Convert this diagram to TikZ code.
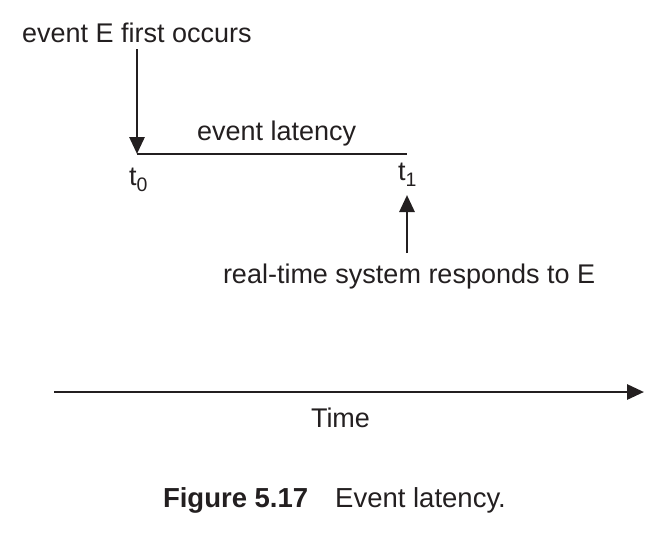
\documentclass[tikz,border=0pt]{standalone}
\usepackage{fontspec}
\setmainfont{Liberation Sans}
\usetikzlibrary{arrows.meta}
\definecolor{ink}{RGB}{35,31,32}
\tikzset{
  lbl/.style={inner sep=0pt, outer sep=0pt, anchor=base west, text=ink, font=\fontsize{27}{32}\selectfont},
  caplbl/.style={lbl, font=\fontsize{27.5}{32}\selectfont},
  bigarrow/.style={draw=ink, line width=2.9pt, -{Triangle[length=17pt,width=15pt]}},
  thinline/.style={draw=ink, line width=1.6pt},
}
\newcommand{\subtxt}[1]{\raisebox{-6pt}{\fontsize{19.5}{20}\selectfont #1}}
\begin{document}
\begin{tikzpicture}[x=1pt,y=-1pt]
\useasboundingbox (0,0) rectangle (668,550);
% texts
\node[lbl] (occ) at (22,42) {event E first occurs};
\node[lbl] (lat) at (197,140) {event latency};
\node[lbl] (tz) at (129,185) {t\subtxt{0}};
\node[lbl] (to) at (398,180) {t\subtxt{1}};
\node[lbl] (resp) at (223,283) {real-time system responds to E};
\node[lbl] (time) at (311,427) {Time};
\node[caplbl] (cap) at (163,507) {\textbf{Figure 5.17}\hspace{27pt}Event latency.};
% coordinates
\coordinate (a0) at (137,49);
\coordinate (t0p) at (137,154);
\coordinate (t1p) at (407,154);
\coordinate (b0) at (407,253);
\coordinate (b1) at (407,195);
\coordinate (ax0) at (54,392);
\coordinate (ax1) at (644,392);
% connectors
\draw[thinline] (t0p) -- (t1p);
\draw[bigarrow] (a0) -- (t0p);
\draw[bigarrow] (b0) -- (b1);
\draw[bigarrow] (ax0) -- (ax1);
\end{tikzpicture}
\end{document}
